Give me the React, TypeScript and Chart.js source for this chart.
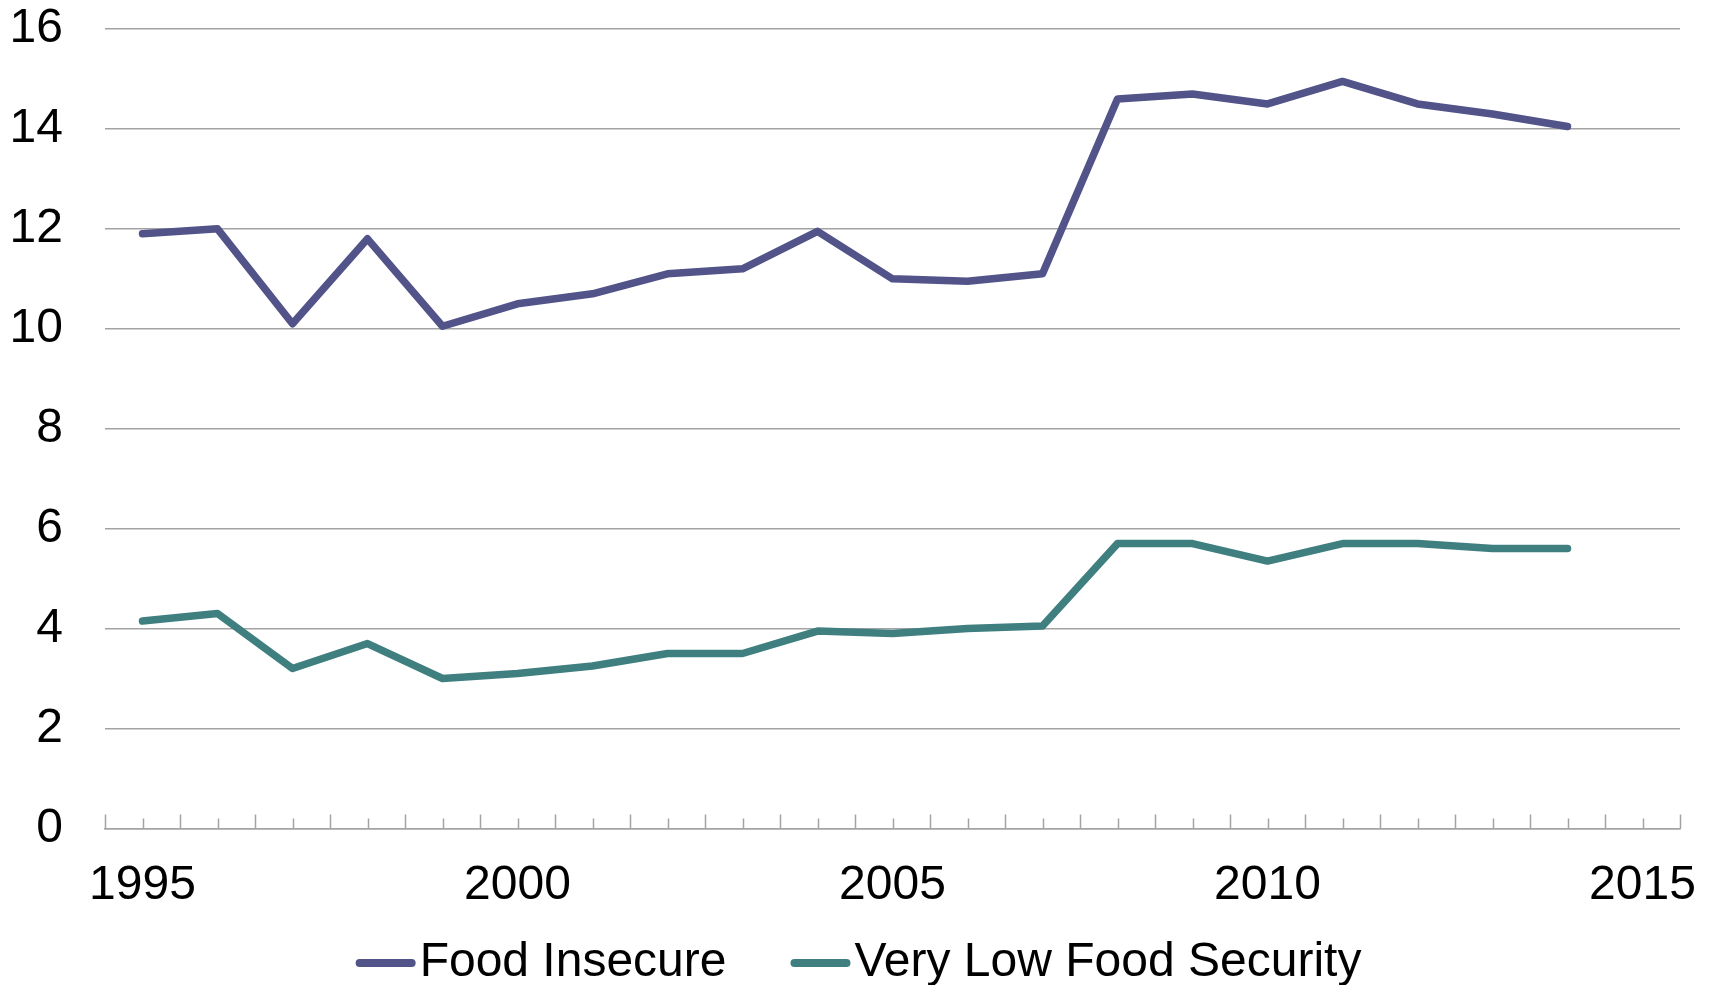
import React, { useEffect, useRef } from "react";
import { Chart, registerables } from "chart.js";

Chart.register(...registerables);

// Survey years on the x axis (the last category has no data point)
const years = [
  "1995", "1996", "1997", "1998", "1999", "2000", "2001", "2002", "2003", "2004",
  "2005", "2006", "2007", "2008", "2009", "2010", "2011", "2012", "2013", "2014", "2015",
];

// Share of households (%)
const foodInsecure = [
  11.9, 12.0, 10.1, 11.8, 10.05, 10.5, 10.7, 11.1, 11.2, 11.95,
  11.0, 10.95, 11.1, 14.6, 14.7, 14.5, 14.95, 14.5, 14.3, 14.05,
];
const veryLowFoodSecurity = [
  4.15, 4.3, 3.2, 3.7, 3.0, 3.1, 3.25, 3.5, 3.5, 3.95,
  3.9, 4.0, 4.05, 5.7, 5.7, 5.35, 5.7, 5.7, 5.6, 5.6,
];

const yTicks = [0, 2, 4, 6, 8, 10, 12, 14, 16];

const FONT = '"Liberation Sans", Arial, sans-serif';
const FONT_SIZE = 48;
const GRID = "#a3a3a3";

// Half-year tick marks along the x axis: long ones at category edges, short ones at centres
const axisTicks = {
  id: "axisTicks",
  afterDraw(chart: any) {
    const x = chart.scales.x;
    const ctx = chart.ctx;
    const base = x.top;
    ctx.save();
    ctx.strokeStyle = GRID;
    ctx.lineWidth = 1.5;
    ctx.beginPath();
    for (let i = 0; i <= years.length; i++) {
      const px = Math.round(x.getPixelForValue(i - 0.5)) + 0.5;
      ctx.moveTo(px, base);
      ctx.lineTo(px, base - 14);
    }
    for (let i = 0; i < years.length; i++) {
      const px = Math.round(x.getPixelForValue(i)) + 0.5;
      ctx.moveTo(px, base);
      ctx.lineTo(px, base - 10);
    }
    ctx.stroke();
    ctx.restore();
  },
};

// Legend below the axis: a short rounded line followed by the series name
const lineLegend = {
  id: "lineLegend",
  afterDraw(chart: any) {
    const ctx = chart.ctx;
    const sets = chart.data.datasets;
    const sample = 60;
    const gapText = 4;
    const gapItem = 64;
    ctx.save();
    ctx.font = `${FONT_SIZE}px ${FONT}`;
    ctx.textBaseline = "middle";
    const widths = sets.map((d: any) => ctx.measureText(d.label).width);
    let total = 0;
    widths.forEach((w: number, i: number) => {
      total += sample + gapText + w + (i < widths.length - 1 ? gapItem : 0);
    });
    let cx = chart.width / 2 - total / 2 + 4;
    const cy = chart.height - 22;
    sets.forEach((d: any, i: number) => {
      ctx.strokeStyle = d.borderColor;
      ctx.lineWidth = 8;
      ctx.lineCap = "round";
      ctx.beginPath();
      ctx.moveTo(cx + 4, cy);
      ctx.lineTo(cx + sample - 4, cy);
      ctx.stroke();
      ctx.fillStyle = "#000";
      ctx.fillText(d.label, cx + sample + gapText, cy);
      cx += sample + gapText + widths[i] + gapItem;
    });
    ctx.restore();
  },
};

export default function App() {
  const canvasRef = useRef<HTMLCanvasElement>(null);

  useEffect(() => {
    if (!canvasRef.current) return;
    const chart = new Chart(canvasRef.current, {
      type: "line",
      data: {
        labels: years,
        datasets: [
          {
            label: "Food Insecure",
            data: foodInsecure,
            borderColor: "#515389",
            borderWidth: 7.5,
            pointRadius: 0,
            borderCapStyle: "round",
            borderJoinStyle: "round",
            tension: 0,
          },
          {
            label: "Very Low Food Security",
            data: veryLowFoodSecurity,
            borderColor: "#3f7f80",
            borderWidth: 7.5,
            pointRadius: 0,
            borderCapStyle: "round",
            borderJoinStyle: "round",
            tension: 0,
          },
        ],
      },
      options: {
        animation: false,
        responsive: true,
        maintainAspectRatio: false,
        layout: { padding: { left: 10, right: 29, top: 0, bottom: 78 } },
        plugins: {
          legend: { display: false },
          tooltip: { enabled: false },
        },
        scales: {
          x: {
            type: "category",
            offset: true,
            grid: { display: false },
            border: { display: true, color: GRID, width: 1.5 },
            ticks: {
              autoSkip: false,
              maxRotation: 0,
              padding: 21,
              color: "#000",
              font: { family: FONT, size: FONT_SIZE },
              callback: (_v: any, i: number) => (Number(years[i]) % 5 === 0 ? years[i] : ""),
            },
            afterFit: (scale: any) => {
              scale.height = 21 + FONT_SIZE * 1.2;
              scale.paddingLeft = 0;
              scale.paddingRight = 0;
            },
          },
          y: {
            min: yTicks[0],
            max: yTicks[yTicks.length - 1],
            afterBuildTicks: (scale: any) => {
              scale.ticks = yTicks.map((v) => ({ value: v }));
            },
            grid: { color: GRID, lineWidth: 1.5, drawTicks: false },
            border: { display: false },
            ticks: {
              padding: 42,
              color: "#000",
              font: { family: FONT, size: FONT_SIZE },
            },
            afterFit: (scale: any) => {
              scale.width = 95;
              scale.paddingTop = 29;
              scale.paddingBottom = 0;
            },
          },
        },
      },
      plugins: [axisTicks, lineLegend],
    });
    return () => chart.destroy();
  }, []);

  return (
    <div style={{ position: "fixed", left: 0, top: 0, width: 1709, height: 985, background: "#fff" }}>
      <canvas ref={canvasRef} />
    </div>
  );
}
